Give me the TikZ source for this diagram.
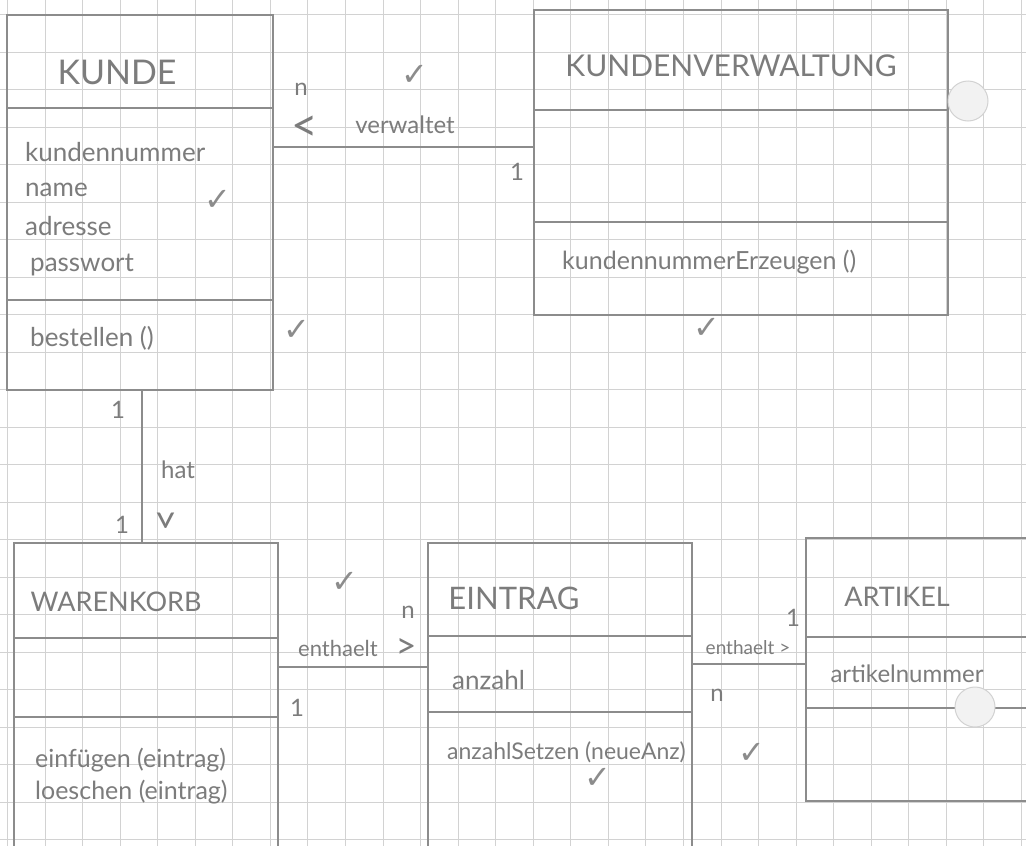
\documentclass[tikz,border=0pt]{standalone}
\usepackage{fontspec}
\usepackage{graphicx}
\usepackage{xcolor}
\setmainfont{Lato}
\newfontfamily\symfont{DejaVu Sans}
\usetikzlibrary{calc,positioning}

\definecolor{pencil}{HTML}{8C8C8C}
\definecolor{ink}{HTML}{7C7C7C}
\definecolor{gridc}{HTML}{D2D2D2}

\begin{document}
\begin{tikzpicture}[
    x=1pt, y=-1pt,
    every node/.style={inner sep=0pt, text=ink},
    gridline/.style={gridc, line width=0.9pt},
    cls/.style={draw=pencil, line width=1.7pt, fill=none, rectangle},
    divider/.style={pencil, line width=1.5pt},
    assoc/.style={pencil, line width=1.5pt},
    title/.style={font=\fontsize{31}{33}\selectfont},
    attr/.style={font=\fontsize{26}{28}\selectfont, anchor=west},
    mult/.style={font=\fontsize{24}{26}\selectfont},
    rel/.style={font=\fontsize{22}{24}\selectfont},
    dirmark/.style={font=\fontsize{46}{48}\selectfont},
    tick/.style={font=\symfont\fontsize{32}{34}\selectfont, text=pencil},
    hole/.style={draw=gray!35, fill=gray!10, line width=1pt}
]
    \useasboundingbox (0,0) rectangle (1026,846);
    \clip (0,0) rectangle (1026,846);
    \fill[white] (0,0) rectangle (1026,846);

    % squared paper
    \foreach \k in {0,...,27} {
        \draw[gridline] ({7.5+37.55*\k},0) -- ({7.5+37.55*\k},846);
    }
    \foreach \k in {0,...,22} {
        \draw[gridline] (0,{14.5+37.5*\k}) -- (1026,{14.5+37.5*\k});
    }

    % classes
    \node[cls, minimum width=266pt, minimum height=375pt] (kunde) at (140,202.5) {};
    \node[cls, minimum width=414pt, minimum height=305pt] (kv) at (741,162.5) {};
    \node[cls, minimum width=264pt, minimum height=357pt] (korb) at (146,721.5) {};
    \node[cls, minimum width=264pt, minimum height=357pt] (eintrag) at (560,721.5) {};
    \node[cls, minimum width=294pt, minimum height=263pt] (artikel) at (953,669.5) {};

    \draw[divider] (7,108) -- (273,108);
    \draw[divider] (7,300) -- (273,300);
    \draw[divider] (534,110) -- (948,110);
    \draw[divider] (534,222) -- (948,222);
    \draw[divider] (14,638) -- (278,638);
    \draw[divider] (14,717) -- (278,717);
    \draw[divider] (428,636) -- (692,636);
    \draw[divider] (428,712) -- (692,712);
    \draw[divider] (806,637) -- (1026,637);
    \draw[divider] (806,708) -- (1026,708);

    % KUNDE
    \node[title, font=\fontsize{34}{36}\selectfont] (kundeT) at (117,72) {KUNDE};
    \node[attr] (kNr) at (25,152) {kundennummer};
    \node[attr] (kName) at (25,190) {name};
    \node[attr] (kAdr) at (25,226) {adresse};
    \node[attr] (kPw) at (30,265) {passwort};
    \node[attr] (kBest) at (30,338) {bestellen ()};

    % KUNDENVERWALTUNG
    \node[title, font=\fontsize{30}{32}\selectfont] (kvT) at (731,66) {KUNDENVERWALTUNG};
    \node[attr, font=\fontsize{25}{27}\selectfont] (kvErz) at (562,262) {kundennummerErzeugen ()};

    % WARENKORB
    \node[title, font=\fontsize{27}{29}\selectfont] (korbT) at (116,602) {WARENKORB};
    \node[attr, font=\fontsize{25}{27}\selectfont] (korbEin) at (35,760) {einfügen (eintrag)};
    \node[attr, font=\fontsize{25}{27}\selectfont] (korbLoe) at (35,792) {loeschen (eintrag)};

    % EINTRAG
    \node[title] (eintragT) at (514,598) {EINTRAG};
    \node[attr] (eAnz) at (452,680) {anzahl};
    \node[attr, font=\fontsize{23}{25}\selectfont] (eSetz) at (447,752) {anzahlSetzen (neueAnz)};

    % ARTIKEL
    \node[title, font=\fontsize{27}{29}\selectfont] (artikelT) at (897,597) {ARTIKEL};
    \node[attr, anchor=center, font=\fontsize{24}{26}\selectfont] (aNr) at (907,674) {artikelnummer};

    % associations
    \coordinate (vwY) at (0,147);
    \draw[assoc] (kunde.east |- vwY) -- (kv.west |- vwY);
    \draw[assoc] ([xshift=2pt]kunde.south) -- ([xshift=2pt]kunde.south |- korb.north);
    \coordinate (e1Y) at (0,667);
    \draw[assoc] (korb.east |- e1Y) -- (eintrag.west |- e1Y);
    \coordinate (e2Y) at (0,664);
    \draw[assoc] (eintrag.east |- e2Y) -- (artikel.west |- e2Y);

    % verwaltet
    \node[mult] (vwN) at (301,89) {n};
    \node[dirmark] (vwDir) at (305,129) {<};
    \node[rel, font=\fontsize{24}{26}\selectfont] (vwLbl) at (405,125) {verwaltet};
    \node[mult] (vw1) at (517,172) {1};

    % hat
    \node[mult] (hat1a) at (118,410) {1};
    \node[rel, font=\fontsize{24}{26}\selectfont] (hatLbl) at (178,470) {hat};
    \node[mult] (hat1b) at (122,525) {1};
    \node[dirmark, font=\fontsize{40}{42}\selectfont] (hatDir) at (164,520) {\rotatebox{-90}{>}};

    % enthaelt (Warenkorb - Eintrag)
    \node[rel] (e1Lbl) at (338,648) {enthaelt};
    \node[dirmark, font=\fontsize{36}{38}\selectfont] (e1Dir) at (406,648) {>};
    \node[mult] (e1N) at (408,612) {n};
    \node[mult] (e11) at (297,708) {1};

    % enthaelt (Eintrag - Artikel)
    \node[rel, font=\fontsize{19}{21}\selectfont] (e2Lbl) at (748,648) {enthaelt >};
    \node[mult] (e21) at (793,618) {1};
    \node[mult] (e2N) at (717,695) {n};

    % checks
    \node[tick] (c1) at (218,200) {✓};
    \node[tick] (c2) at (415,75) {✓};
    \node[tick] (c3) at (297,330) {✓};
    \node[tick] (c4) at (707,328) {✓};
    \node[tick] (c5) at (345,582) {✓};
    \node[tick] (c6) at (598,778) {✓};
    \node[tick] (c7) at (752,753) {✓};

    % punched holes
    \draw[hole] (968,101) circle (20);
    \draw[hole] (975,707) circle (20);
\end{tikzpicture}
\end{document}
